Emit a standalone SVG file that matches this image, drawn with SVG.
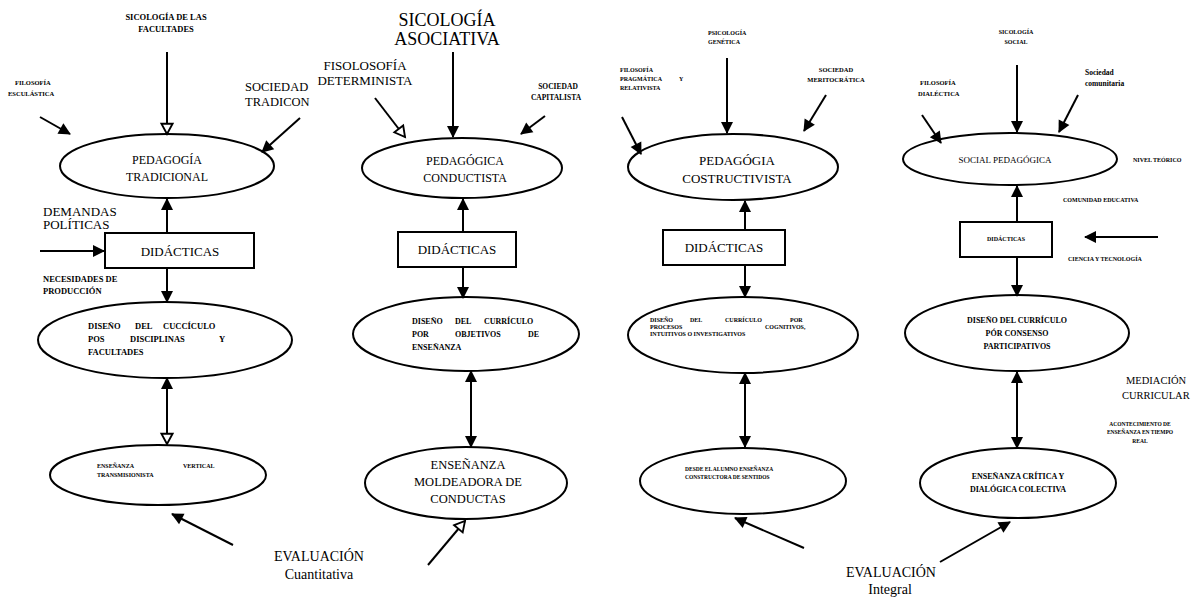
<svg xmlns="http://www.w3.org/2000/svg" width="1192" height="598" viewBox="0 0 1192 598">
<style>
.bg{fill:#fff}
.n{fill:#fff;stroke:#000;stroke-width:2}
.c{stroke:#000;stroke-width:2;fill:none}
.t{font-family:"Liberation Serif","Times New Roman",serif;fill:#000}
.b{font-weight:bold}
.m{text-anchor:middle}
.e{text-anchor:end}
</style>
<defs>
<marker id="ah" viewBox="0 0 12 12" refX="11" refY="6" markerWidth="12" markerHeight="12" markerUnits="userSpaceOnUse" orient="auto-start-reverse" overflow="visible"><path d="M0,0 L12,6 L0,12 z" fill="#000"/></marker>
<marker id="ho" viewBox="0 0 14 14" refX="12" refY="7" markerWidth="13" markerHeight="13" markerUnits="userSpaceOnUse" orient="auto" overflow="visible"><path d="M1,1 L12,7 L1,13 z" fill="#fff" stroke="#000" stroke-width="2"/></marker>
</defs>
<rect class="bg" x="0" y="0" width="1192" height="598"/>

<!-- Column 1 -->
<g id="lbl-sicologia-facultades">
<text class="t b m" x="166" y="20" font-size="8.5">SICOLOGÍA DE LAS</text>
<text class="t b m" x="166" y="32" font-size="8.5">FACULTADES</text>
</g>
<g id="lbl-filosofia-escolastica">
<text class="t b" x="15" y="85" font-size="6.5">FILOSOFÍA</text>
<text class="t b" x="8" y="96" font-size="6.5">ESCULÁSTICA</text>
</g>
<g id="lbl-sociedad-tradicon">
<text class="t" x="245" y="91" font-size="12.5">SOCIEDAD</text>
<text class="t" x="245" y="106" font-size="12.5">TRADICON</text>
</g>
<g id="node-pedagogia-tradicional">
<ellipse class="n" cx="167" cy="166" rx="107" ry="32"/>
<text class="t m" x="167" y="164" font-size="12">PEDAGOGÍA</text>
<text class="t m" x="167" y="181" font-size="12">TRADICIONAL</text>
</g>
<g id="lbl-demandas">
<text class="t" x="43" y="216" font-size="13">DEMANDAS</text>
<text class="t" x="43" y="229" font-size="13">POLÍTICAS</text>
</g>
<g id="node-didacticas-1">
<rect class="n" x="105" y="233" width="149" height="35"/>
<text class="t m" x="180" y="256" font-size="13">DIDÁCTICAS</text>
</g>
<g id="lbl-necesidades">
<text class="t b" x="43" y="282" font-size="8.5">NECESIDADES DE</text>
<text class="t b" x="43" y="294" font-size="8.5">PRODUCCIÓN</text>
</g>
<g id="node-diseno-1">
<ellipse class="n" cx="165" cy="340" rx="127" ry="38"/>
<text class="t b" font-size="8.5" y="329"><tspan x="88">DISEÑO</tspan><tspan x="135">DEL</tspan><tspan x="163">CUCCÍCULO</tspan></text>
<text class="t b" font-size="8.5" y="342"><tspan x="88">POS</tspan><tspan x="130">DISCIPLINAS</tspan><tspan x="219">Y</tspan></text>
<text class="t b" font-size="8.5" x="88" y="355">FACULTADES</text>
</g>
<g id="node-ensenanza-1">
<ellipse class="n" cx="158" cy="475" rx="108" ry="30"/>
<text class="t b" font-size="6" y="468"><tspan x="97">ENSEÑANZA</tspan><tspan x="183">VERTICAL</tspan></text>
<text class="t b" font-size="6" x="97" y="477">TRANSMISIONISTA</text>
</g>
<g id="lbl-evaluacion-cuantitativa">
<text class="t m" x="319" y="561" font-size="14">EVALUACIÓN</text>
<text class="t m" x="319" y="579" font-size="14">Cuantitativa</text>
</g>

<!-- Column 2 -->
<g id="lbl-sicologia-asociativa">
<text class="t m" x="447" y="26" font-size="18">SICOLOGÍA</text>
<text class="t m" x="447" y="45" font-size="18">ASOCIATIVA</text>
</g>
<g id="lbl-fisolosofia">
<text class="t m" x="365" y="70" font-size="13">FISOLOSOFÍA</text>
<text class="t m" x="365" y="85" font-size="13">DETERMINISTA</text>
</g>
<g id="lbl-sociedad-capitalista">
<text class="t b m" x="558" y="89" font-size="7.5">SOCIEDAD</text>
<text class="t b m" x="556" y="100" font-size="7.5">CAPITALISTA</text>
</g>
<g id="node-pedagogica-conductista">
<ellipse class="n" cx="462" cy="168" rx="100" ry="30"/>
<text class="t m" x="465" y="165" font-size="12">PEDAGÓGICA</text>
<text class="t m" x="465" y="182" font-size="12">CONDUCTISTA</text>
</g>
<g id="node-didacticas-2">
<rect class="n" x="398" y="232" width="118" height="35"/>
<text class="t m" x="457" y="254" font-size="13">DIDÁCTICAS</text>
</g>
<g id="node-diseno-2">
<ellipse class="n" cx="466" cy="334" rx="113" ry="37"/>
<text class="t b" font-size="8" y="324"><tspan x="412">DISEÑO</tspan><tspan x="455">DEL</tspan><tspan x="484">CURRÍCULO</tspan></text>
<text class="t b" font-size="8" y="337"><tspan x="412">POR</tspan><tspan x="455">OBJETIVOS</tspan><tspan x="528">DE</tspan></text>
<text class="t b" font-size="8" x="412" y="350">ENSEÑANZA</text>
</g>
<g id="node-ensenanza-2">
<ellipse class="n" cx="466" cy="483" rx="101" ry="36"/>
<text class="t m" x="468" y="469" font-size="12.5">ENSEÑANZA</text>
<text class="t m" x="468" y="486" font-size="12.5">MOLDEADORA DE</text>
<text class="t m" x="468" y="503" font-size="12.5">CONDUCTAS</text>
</g>

<!-- Column 3 -->
<g id="lbl-psicologia-genetica">
<text class="t b" x="708" y="35" font-size="6">PSICOLOGÍA</text>
<text class="t b" x="708" y="44" font-size="6">GENÉTICA</text>
</g>
<g id="lbl-filosofia-pragmatica">
<text class="t b" x="620" y="72" font-size="6">FILOSOFÍA</text>
<text class="t b" font-size="6" y="81"><tspan x="620">PRAGMÁTICA</tspan><tspan x="679">Y</tspan></text>
<text class="t b" x="620" y="90" font-size="6">RELATIVISTA</text>
</g>
<g id="lbl-sociedad-meritocratica">
<text class="t b m" x="836" y="72" font-size="6.5">SOCIEDAD</text>
<text class="t b m" x="836" y="82" font-size="6.5">MERITOCRÁTICA</text>
</g>
<g id="node-pedagogia-costructivista">
<ellipse class="n" cx="733" cy="167" rx="105" ry="33"/>
<text class="t m" x="737" y="165" font-size="13">PEDAGÓGIA</text>
<text class="t m" x="737" y="183" font-size="13">COSTRUCTIVISTA</text>
</g>
<g id="node-didacticas-3">
<rect class="n" x="663" y="230" width="122" height="35"/>
<text class="t m" x="724" y="252" font-size="13">DIDÁCTICAS</text>
</g>
<g id="node-diseno-3">
<ellipse class="n" cx="743" cy="335" rx="115" ry="38"/>
<text class="t b" font-size="6" y="322"><tspan x="650">DISEÑO</tspan><tspan x="690">DEL</tspan><tspan x="725">CURRÍCULO</tspan><tspan x="790">POR</tspan></text>
<text class="t b" font-size="6" y="329"><tspan x="650">PROCESOS</tspan><tspan x="765">COGNITIVOS,</tspan></text>
<text class="t b" font-size="6" x="650" y="336">INTUITIVOS O INVESTIGATIVOS</text>
</g>
<g id="node-ensenanza-3">
<ellipse class="n" cx="743" cy="481" rx="103" ry="33"/>
<text class="t b" font-size="5.5" x="685" y="471">DESDE EL ALUMNO ENSEÑANZA</text>
<text class="t b" font-size="5.5" x="685" y="479">CONSTRUCTORA DE SENTIDOS</text>
</g>
<g id="lbl-evaluacion-integral">
<text class="t m" x="891" y="577" font-size="14">EVALUACIÓN</text>
<text class="t m" x="890" y="594" font-size="14">Integral</text>
</g>

<!-- Column 4 -->
<g id="lbl-sicologia-social">
<text class="t b m" x="1016" y="34" font-size="6">SICOLOGÍA</text>
<text class="t b m" x="1016" y="44" font-size="6">SOCIAL</text>
</g>
<g id="lbl-sociedad-comunitaria">
<text class="t b" x="1085" y="75" font-size="7.5">Sociedad</text>
<text class="t b" x="1085" y="86" font-size="7.5">comunitaria</text>
</g>
<g id="lbl-filosofia-dialectica">
<text class="t b" x="920" y="85" font-size="6.5">FILOSOFÍA</text>
<text class="t b" x="918" y="96" font-size="6.5">DIALÉCTICA</text>
</g>
<g id="node-social-pedagogica">
<ellipse class="n" cx="1010" cy="159" rx="107" ry="26"/>
<text class="t m" x="1005" y="163" font-size="9">SOCIAL PEDAGÓGICA</text>
</g>
<g id="lbl-nivel-teorico">
<text class="t b" x="1133" y="162" font-size="6">NIVEL TEÓRICO</text>
</g>
<g id="lbl-comunidad-educativa">
<text class="t b" x="1063" y="202" font-size="6">COMUNIDAD EDUCATIVA</text>
</g>
<g id="node-didacticas-4">
<rect class="n" x="960" y="222" width="92" height="35"/>
<text class="t b m" x="1006" y="241" font-size="6">DIDÁCTICAS</text>
</g>
<g id="lbl-ciencia-tecnologia">
<text class="t b" x="1068" y="261" font-size="6">CIENCIA Y TECNOLOGÍA</text>
</g>
<g id="node-diseno-4">
<ellipse class="n" cx="1017" cy="333" rx="112" ry="38"/>
<text class="t b m" x="1017" y="323" font-size="8">DISEÑO DEL CURRÍCULO</text>
<text class="t b m" x="1017" y="336" font-size="8">PÓR CONSENSO</text>
<text class="t b m" x="1017" y="349" font-size="8">PARTICIPATIVOS</text>
</g>
<g id="lbl-mediacion">
<text class="t" x="1126" y="384" font-size="10.5">MEDIACIÓN</text>
<text class="t" x="1122" y="399" font-size="10.5">CURRICULAR</text>
</g>
<g id="lbl-acontecimiento">
<text class="t b m" x="1140" y="426" font-size="5.5">ACONTECIMIENTO DE</text>
<text class="t b m" x="1140" y="434" font-size="5.5">ENSEÑANZA EN TIEMPO</text>
<text class="t b m" x="1140" y="443" font-size="5.5">REAL</text>
</g>
<g id="node-ensenanza-4">
<ellipse class="n" cx="1018" cy="483" rx="98" ry="35"/>
<text class="t b m" x="1018" y="479" font-size="8">ENSEÑANZA CRÍTICA Y</text>
<text class="t b m" x="1018" y="492" font-size="8">DIALÓGICA COLECTIVA</text>
</g>

<g id="connectors">
<!-- column 1 -->
<line class="c" x1="167" y1="52" x2="167" y2="134" marker-end="url(#ho)"/>
<line class="c" x1="40" y1="117" x2="70" y2="134" marker-end="url(#ah)"/>
<line class="c" x1="300" y1="118" x2="262" y2="152" marker-end="url(#ah)"/>
<line class="c" x1="167" y1="233" x2="167" y2="199" marker-end="url(#ah)"/>
<line class="c" x1="40" y1="251" x2="104" y2="251" marker-end="url(#ah)"/>
<line class="c" x1="167" y1="268" x2="167" y2="302" marker-end="url(#ah)"/>
<line class="c" x1="167" y1="378" x2="167" y2="444" marker-start="url(#ah)" marker-end="url(#ho)"/>
<line class="c" x1="233" y1="545" x2="172" y2="514" marker-end="url(#ah)"/>
<!-- column 2 -->
<line class="c" x1="453" y1="52" x2="453" y2="137" marker-end="url(#ah)"/>
<line class="c" x1="375" y1="98" x2="405" y2="137" marker-end="url(#ho)"/>
<line class="c" x1="545" y1="116" x2="521" y2="134" marker-end="url(#ah)"/>
<line class="c" x1="463" y1="232" x2="463" y2="199" marker-end="url(#ah)"/>
<line class="c" x1="463" y1="267" x2="463" y2="298" marker-end="url(#ah)"/>
<line class="c" x1="471" y1="371" x2="471" y2="447" marker-start="url(#ah)" marker-end="url(#ah)"/>
<line class="c" x1="428" y1="565" x2="465" y2="521" marker-end="url(#ho)"/>
<!-- column 3 -->
<line class="c" x1="727" y1="58" x2="727" y2="133" marker-end="url(#ah)"/>
<line class="c" x1="622" y1="117" x2="641" y2="154" marker-end="url(#ah)"/>
<line class="c" x1="826" y1="95" x2="804" y2="131" marker-end="url(#ah)"/>
<line class="c" x1="745" y1="230" x2="745" y2="201" marker-end="url(#ah)"/>
<line class="c" x1="745" y1="265" x2="745" y2="297" marker-end="url(#ah)"/>
<line class="c" x1="745" y1="373" x2="745" y2="447" marker-start="url(#ah)" marker-end="url(#ah)"/>
<line class="c" x1="804" y1="548" x2="735" y2="518" marker-end="url(#ah)"/>
<!-- column 4 -->
<line class="c" x1="1017" y1="65" x2="1017" y2="132" marker-end="url(#ah)"/>
<line class="c" x1="1078" y1="95" x2="1059" y2="132" marker-end="url(#ah)"/>
<line class="c" x1="922" y1="115" x2="941" y2="143" marker-end="url(#ah)"/>
<line class="c" x1="1017" y1="222" x2="1017" y2="186" marker-end="url(#ah)"/>
<line class="c" x1="1158" y1="237" x2="1085" y2="237" marker-end="url(#ah)"/>
<line class="c" x1="1017" y1="257" x2="1017" y2="296" marker-end="url(#ah)"/>
<line class="c" x1="1017" y1="372" x2="1017" y2="448" marker-start="url(#ah)" marker-end="url(#ah)"/>
<line class="c" x1="940" y1="562" x2="1010" y2="522" marker-end="url(#ah)"/>
</g>
</svg>
